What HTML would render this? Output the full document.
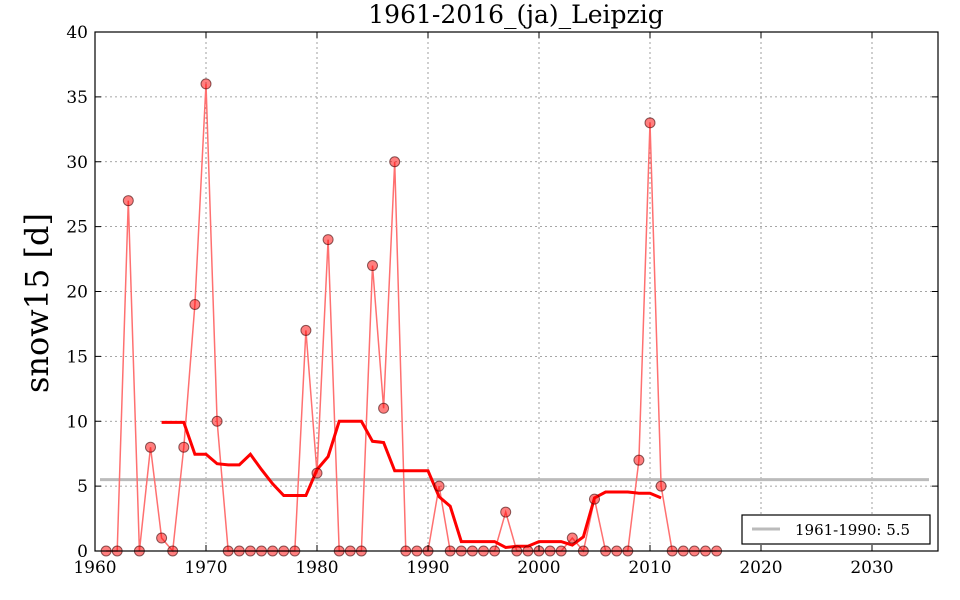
<!DOCTYPE html>
<html><head><meta charset="utf-8"><style>
html,body{margin:0;padding:0;background:#fff;}
svg{display:block;font-family:"DejaVu Serif","Liberation Serif",serif;}
</style></head><body>
<svg id="s" width="960" height="600" xmlns="http://www.w3.org/2000/svg"></svg>
<script>
const s=document.getElementById('s');
const X=y=>95+(y-1960)*11.1, Y=v=>551-v*12.975;
const data={1963:27,1965:8,1966:1,1968:8,1969:19,1970:36,1971:10,1979:17,1980:6,1981:24,1985:22,1986:11,1987:30,1991:5,1997:3,2003:1,2005:4,2009:7,2010:33,2011:5};
const yrs=[],vals=[];for(let y=1961;y<=2016;y++){yrs.push(y);vals.push(data[y]||0);}
let h='';
h+='<rect x="95" y="32" width="843" height="519" fill="#fff"/>';
for(let yr=1970;yr<=2030;yr+=10)h+=`<line x1="${X(yr)}" y1="32" x2="${X(yr)}" y2="551" stroke="#888" stroke-dasharray="2,3" stroke-width="0.8"/>`;
for(let v=5;v<40;v+=5)h+=`<line x1="95" y1="${Y(v)}" x2="938" y2="${Y(v)}" stroke="#888" stroke-dasharray="2,3" stroke-width="0.8"/>`;
h+=`<line x1="100" y1="${Y(5.5)}" x2="929" y2="${Y(5.5)}" stroke="#bbb" stroke-width="3"/>`;
h+=`<polyline fill="none" stroke="#ff7070" stroke-width="1.5" points="${yrs.map((y,i)=>X(y)+','+Y(vals[i])).join(' ')}"/>`;
let pts=[];for(let i=5;i<vals.length-5;i++){let a=0;for(let j=i-5;j<=i+5;j++)a+=vals[j];pts.push(X(yrs[i])+','+Y(a/11));}
h+=`<polyline fill="none" stroke="#f00" stroke-width="3" points="${pts.join(' ')}"/>`;
yrs.forEach((y,i)=>{h+=`<circle cx="${X(y)}" cy="${Y(vals[i])}" r="5" fill="rgba(255,0,0,0.5)" stroke="rgba(60,0,0,0.6)" stroke-width="1"/>`;});
h+='<rect x="95" y="32" width="843" height="519" fill="none" stroke="#000" stroke-width="1.2"/>';
for(let yr=1960;yr<=2030;yr+=10){h+=`<line x1="${X(yr)}" y1="551" x2="${X(yr)}" y2="545" stroke="#000"/><line x1="${X(yr)}" y1="32" x2="${X(yr)}" y2="38" stroke="#000"/>`;
h+=`<text x="${X(yr)}" y="573" font-size="17" text-anchor="middle">${yr}</text>`;}
for(let v=0;v<=40;v+=5){h+=`<line x1="95" y1="${Y(v)}" x2="101" y2="${Y(v)}" stroke="#000"/><line x1="938" y1="${Y(v)}" x2="932" y2="${Y(v)}" stroke="#000"/>`;
h+=`<text x="88" y="${Y(v)+6}" font-size="17" text-anchor="end">${v}</text>`;}
h+='<text x="516" y="23" font-size="25" text-anchor="middle">1961-2016_(ja)_Leipzig</text>';
h+='<text transform="translate(48,303) rotate(-90)" font-size="32" text-anchor="middle">snow15 [d]</text>';
h+='<rect x="742" y="515" width="188" height="29" fill="#fff" stroke="#000" stroke-width="1.2"/>';
h+='<line x1="752" y1="529" x2="780" y2="529" stroke="#bbb" stroke-width="3"/>';
h+='<text x="795" y="535" font-size="15">1961-1990: 5.5</text>';
s.innerHTML=h;
</script>
</body></html>
